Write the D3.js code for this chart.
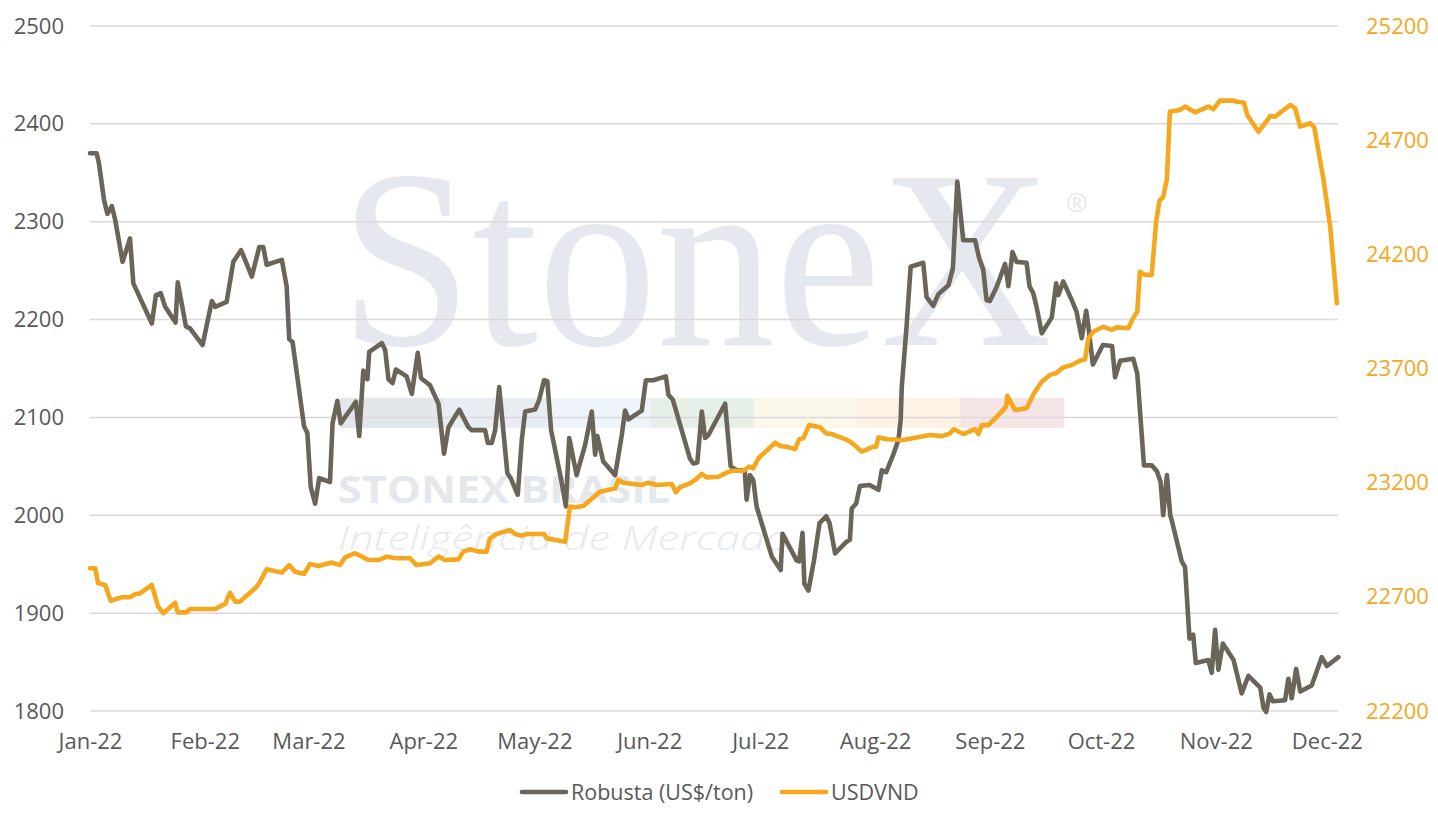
<!DOCTYPE html>
<html>
<head>
<meta charset="utf-8">
<script src="https://cdn.jsdelivr.net/npm/d3@7"></script>
<style>
  html, body { margin: 0; padding: 0; background: #ffffff; }
  svg { display: block; }
  text { font-family: "Open Sans", "Liberation Sans", sans-serif; }
</style>
</head>
<body>
<svg id="chart" width="1438" height="826"></svg>
<script>
// ---------------- DATA ----------------
// days counted from 1 Jan 2022
const robustaDays = [0,1.8,2.4,3.8,4.7,5.9,6.8,8.8,10.8,11.7,16.7,17.8,19.1,20.3,23.1,23.7,25.9,27.0,30.4,32.9,33.8,36.9,38.7,40.8,43.7,45.7,46.8,47.7,51.8,53.1,53.8,54.7,57.8,58.7,59.6,60.8,61.9,64.8,65.5,66.8,67.7,71.8,72.7,73.8,74.9,75.4,78.8,79.7,80.6,81.7,82.6,85.5,86.9,88.5,89.4,91.8,94.1,95.6,96.8,99.7,102.2,103.1,106.7,107.4,108.5,109.4,110.5,112.7,113.6,115.5,116.6,117.5,120.2,121.3,122.6,123.5,124.5,125.6,127.4,128.5,129.4,131.4,133.7,135.5,136.4,137.0,138.6,141.8,143.6,144.5,145.4,149.0,150.1,152.1,155.5,156.2,157.4,162.0,162.9,164.0,165.2,166.1,167.0,171.5,173.0,174.6,176.8,177.3,178.2,179.1,180.0,184.1,186.5,187.0,190.8,191.5,192.4,192.9,194.0,195.5,197.0,198.8,199.7,201.2,204.3,205.2,205.7,206.9,207.9,210.5,212.9,213.8,215.0,216.9,218.3,218.9,219.2,220.5,221.6,225.0,225.9,227.7,229.1,231.8,233.0,234.2,235.8,239.0,240.1,241.2,242.1,243.0,244.9,247.1,248.0,249.1,250.2,252.9,253.7,254.7,255.6,257.0,259.7,260.9,261.5,262.8,265.1,266.4,267.8,269.0,269.6,270.8,273.5,276.0,276.8,278.2,281.7,282.8,284.6,286.7,288.1,289.1,289.8,290.8,291.7,292.1,294.8,295.7,296.9,297.9,298.6,302.0,302.9,303.8,304.7,305.9,308.8,311.0,312.8,316.0,316.9,317.6,318.5,319.4,322.7,323.6,324.5,325.7,326.8,329.9,332.6,334.0,337.1];
const robustaValues = [2370,2370,2360,2322,2308,2316,2302,2259,2283,2237,2196,2225,2227,2213,2197,2238,2193,2191,2174,2219,2213,2218,2259,2271,2244,2274,2274,2256,2261,2234,2180,2177,2091,2084,2029,2012,2038,2034,2094,2117,2094,2116,2081,2148,2139,2167,2176,2169,2139,2135,2149,2142,2124,2166,2140,2133,2114,2063,2090,2108,2090,2087,2087,2074,2074,2087,2131,2043,2038,2021,2077,2106,2108,2118,2138,2137,2087,2067,2033,2009,2079,2041,2072,2106,2062,2081,2055,2041,2082,2107,2098,2107,2138,2138,2142,2123,2118,2058,2053,2054,2106,2079,2082,2114,2050,2046,2046,2016,2041,2036,2009,1958,1944,1981,1954,1953,1982,1930,1923,1954,1992,1999,1992,1961,1973,1975,2007,2012,2030,2031,2026,2046,2044,2062,2077,2097,2131,2193,2254,2258,2223,2214,2226,2235,2252,2341,2281,2281,2263,2251,2220,2219,2234,2257,2234,2269,2259,2258,2234,2227,2213,2186,2202,2237,2225,2239,2220,2208,2181,2209,2193,2154,2174,2173,2141,2158,2160,2145,2051,2051,2045,2034,2000,2041,2000,1995,1953,1947,1874,1878,1849,1852,1839,1883,1842,1869,1852,1818,1836,1824,1803,1799,1817,1810,1811,1833,1813,1843,1820,1826,1855,1846,1855];

const vndDays = [0,1.4,2.2,4.1,5.6,8.6,10.8,12.2,13.5,16.7,18.4,19.8,23.0,23.7,26.1,27.0,33.8,36.5,37.8,39.2,40.5,45.0,45.9,47.7,51.8,53.8,55.4,57.8,59.4,61.7,65.3,67.5,68.9,71.6,75.2,77.9,80.1,82.8,86.4,88.2,91.8,94.1,95.9,99.5,100.8,102.6,104.9,107.1,108.0,109.8,113.4,114.8,116.6,117.9,122.6,123.3,128.3,129.6,131.0,133.2,134.6,137.7,141.8,142.7,144.0,149.0,150.8,153.0,157.1,158.2,159.3,162.0,163.4,165.2,166.5,169.7,171.9,173.3,176.4,178.0,179.1,180.5,185.0,186.3,188.1,190.4,191.5,192.6,194.2,197.1,198.8,200.3,204.4,205.7,208.4,211.4,212.3,212.9,215.1,219.6,226.8,230.0,232.2,233.3,235.8,239.0,239.9,240.8,242.6,245.3,247.4,247.7,249.8,252.9,254.9,257.0,259.2,260.9,261.9,262.8,265.1,267.3,268.7,269.6,270.9,273.6,275.9,277.2,280.4,281.5,282.8,283.5,284.9,286.7,287.9,288.8,289.8,290.8,291.6,294.3,295.7,298.4,302.0,303.3,305.1,308.7,309.8,311.6,312.5,315.5,317.3,318.7,320.0,324.1,325.4,326.8,329.5,330.6,333.1,334.9,336.7];
const vndValues = [22825,22825,22759,22752,22683,22698,22698,22712,22715,22752,22657,22628,22674,22632,22632,22647,22647,22669,22718,22679,22679,22744,22766,22821,22806,22839,22810,22800,22844,22835,22850,22839,22873,22891,22861,22861,22876,22869,22869,22839,22847,22876,22861,22864,22898,22908,22898,22898,22956,22975,22993,22975,22968,22975,22975,22956,22941,23095,23092,23098,23117,23160,23175,23212,23200,23190,23200,23190,23194,23158,23180,23197,23212,23238,23223,23226,23244,23252,23252,23270,23263,23307,23375,23361,23357,23347,23390,23394,23452,23443,23416,23413,23387,23375,23336,23357,23357,23399,23390,23387,23409,23404,23416,23434,23413,23434,23413,23452,23452,23496,23533,23580,23518,23526,23591,23642,23672,23679,23693,23705,23715,23734,23740,23832,23861,23883,23869,23880,23876,23915,23949,24124,24110,24110,24343,24435,24452,24529,24825,24832,24847,24822,24847,24835,24873,24873,24868,24864,24810,24737,24774,24806,24803,24854,24840,24759,24774,24756,24526,24321,23986];

const leftTicks = [1800,1900,2000,2100,2200,2300,2400,2500];
const rightTicks = [22200,22700,23200,23700,24200,24700,25200];
const monthTicks = ["2022-01-01","2022-02-01","2022-03-01","2022-04-01","2022-05-01","2022-06-01","2022-07-01","2022-08-01","2022-09-01","2022-10-01","2022-11-01","2022-12-01"];
const seriesNames = ["Robusta (US$/ton)", "USDVND"];

// ---------------- LAYOUT / STYLE ----------------
const W = 1438, H = 826;
const plot = { left: 90, right: 1338, top: 26, bottom: 711 };
const colRobusta = "#6b6459";
const colVnd = "#f5a71d";
const colGrid = "#dcd8d9";
const colText = "#595959";
const lineW = 4.6;

const base = new Date(2022, 0, 1);
const toDate = d => new Date(base.getTime() + d * 864e5);
const parse = d3.timeParse("%Y-%m-%d");

const x = d3.scaleTime()
  .domain([base, toDate(337)])
  .range([plot.left, plot.right]);
const yL = d3.scaleLinear().domain([1800, 2500]).range([plot.bottom, plot.top]);
const yR = d3.scaleLinear().domain([22200, 25200]).range([plot.bottom, plot.top]);

const svg = d3.select("#chart");

// ---------------- WATERMARK ----------------
const wm = svg.append("g").attr("class", "watermark");
const bandColors = ["#e3e7ec", "#e8edf3", "#eef4fa", "#e6efe8", "#fbf8ea", "#fdf3e5", "#f6e5e7"];
const bandX0 = 340, bandW = 103.4;
bandColors.forEach((c, i) => {
  wm.append("rect")
    .attr("x", bandX0 + i * bandW).attr("y", 398)
    .attr("width", bandW + 0.5).attr("height", 30)
    .attr("fill", c);
});
const logoText = wm.append("text")
  .attr("x", 0).attr("y", 0)
  .attr("font-size", 236)
  .attr("fill", "#e5e8ee")
  .style("font-family", "'Liberation Serif', 'DejaVu Serif', serif")
  .text("StoneX");
// fit the logo to the width it takes in the picture, keeping its height
const natW = logoText.node().getComputedTextLength();
logoText.attr("transform", `translate(340,345) scale(${712 / natW},${255 / 236})`);
wm.append("text")
  .attr("x", 1066).attr("y", 212)
  .attr("font-size", 26)
  .attr("fill", "#e5e8ee")
  .text("®");
wm.append("text")
  .attr("x", 338).attr("y", 503)
  .attr("font-size", 38).attr("font-weight", 700)
  .attr("textLength", 332).attr("lengthAdjust", "spacingAndGlyphs")
  .attr("fill", "#e4e7eb")
  .text("STONEX BRASIL");
wm.append("text")
  .attr("x", 338).attr("y", 550)
  .attr("font-size", 33).attr("font-style", "italic").attr("font-weight", 300)
  .attr("textLength", 452).attr("lengthAdjust", "spacingAndGlyphs")
  .attr("fill", "#e6e9ee")
  .text("Inteligência de Mercado");

// ---------------- GRID ----------------
svg.append("g").selectAll("line")
  .data(leftTicks)
  .join("line")
  .attr("x1", plot.left).attr("x2", plot.right)
  .attr("y1", d => yL(d)).attr("y2", d => yL(d))
  .attr("stroke", colGrid).attr("stroke-width", 1.5);

// ---------------- AXES ----------------
const axL = svg.append("g")
  .attr("transform", `translate(${plot.left - 26},0)`)
  .call(d3.axisLeft(yL).tickValues(leftTicks).tickSize(0).tickPadding(0).tickFormat(d3.format("d")));
axL.select(".domain").remove();
axL.selectAll("text").attr("fill", colText).attr("font-size", 22)
  .style("font-family", "'Open Sans', sans-serif");

const axR = svg.append("g")
  .attr("transform", `translate(${plot.right + 28},0)`)
  .call(d3.axisRight(yR).tickValues(rightTicks).tickSize(0).tickPadding(0).tickFormat(d3.format("d")));
axR.select(".domain").remove();
axR.selectAll("text").attr("fill", colVnd).attr("font-size", 22)
  .style("font-family", "'Open Sans', sans-serif");

const axB = svg.append("g")
  .attr("transform", `translate(0,${plot.bottom + 22})`)
  .call(d3.axisBottom(x).tickValues(monthTicks.map(parse)).tickSize(0).tickPadding(0)
    .tickFormat(d3.timeFormat("%b-%y")));
axB.select(".domain").remove();
axB.selectAll("text").attr("fill", colText).attr("font-size", 22)
  .style("font-family", "'Open Sans', sans-serif");

// ---------------- LINES ----------------
const robusta = robustaDays.map((d, i) => ({ date: toDate(d), v: robustaValues[i] }));
const vnd = vndDays.map((d, i) => ({ date: toDate(d), v: vndValues[i] }));

svg.append("path")
  .datum(robusta)
  .attr("fill", "none").attr("stroke", colRobusta).attr("stroke-width", lineW)
  .attr("stroke-linejoin", "round").attr("stroke-linecap", "round")
  .attr("d", d3.line().x(d => x(d.date)).y(d => yL(d.v)));

svg.append("path")
  .datum(vnd)
  .attr("fill", "none").attr("stroke", colVnd).attr("stroke-width", lineW)
  .attr("stroke-linejoin", "round").attr("stroke-linecap", "round")
  .attr("d", d3.line().x(d => x(d.date)).y(d => yR(d.v)));

// ---------------- LEGEND ----------------
const legend = svg.append("g").attr("transform", "translate(0,792)");
const legItems = [
  { name: seriesNames[0], color: colRobusta, x: 522 },
  { name: seriesNames[1], color: colVnd, x: 782 }
];
legItems.forEach(it => {
  legend.append("line")
    .attr("x1", it.x).attr("x2", it.x + 44).attr("y1", 0).attr("y2", 0)
    .attr("stroke", it.color).attr("stroke-width", lineW).attr("stroke-linecap", "round");
  legend.append("text")
    .attr("x", it.x + 49).attr("y", 0).attr("dy", "0.35em")
    .attr("font-size", 21.5).attr("fill", colText)
    .text(it.name);
});
</script>
</body>
</html>
